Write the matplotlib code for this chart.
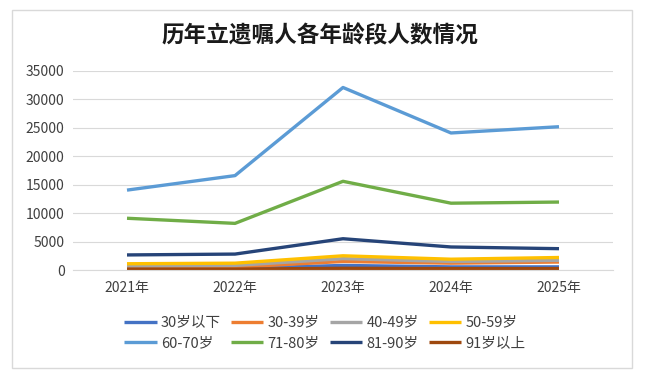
import matplotlib.pyplot as plt
from matplotlib.patches import Rectangle

plt.rcParams['font.family'] = ['Noto Sans CJK SC', 'DejaVu Sans']

years = ["2021年", "2022年", "2023年", "2024年", "2025年"]
labels = ["30岁以下", "30-39岁", "40-49岁", "50-59岁", "60-70岁", "71-80岁", "81-90岁", "91岁以上"]
under30 = [300, 300, 800, 550, 550]
age30_39 = [500, 500, 1500, 1200, 1400]
age40_49 = [700, 800, 2000, 1500, 1700]
age50_59 = [1100, 1200, 2500, 1900, 2200]
age60_70 = [14050, 16600, 32100, 24100, 25200]
age71_80 = [9100, 8200, 15600, 11750, 11950]
age81_90 = [2650, 2800, 5500, 4050, 3750]
over91 = [150, 150, 300, 250, 250]
series = [under30, age30_39, age40_49, age50_59, age60_70, age71_80, age81_90, over91]
colors = ["#4472C4", "#ED7D31", "#A5A5A5", "#FFC000", "#5B9BD5", "#70AD47", "#264478", "#9E480E"]

fig = plt.figure(figsize=(6.53, 3.85), dpi=100)
fig.patch.set_facecolor("white")
# 外枠
fig.patches.append(Rectangle((12 / 653, 1 - 368 / 385), 620 / 653, 358 / 385,
                             transform=fig.transFigure, fill=False,
                             edgecolor="#d9d9d9", linewidth=1))

ax = fig.add_axes([73 / 653, 1 - 270 / 385, 540 / 653, 199 / 385])
x = list(range(len(years)))
lines = []
for vals, lab, c in zip(series, labels, colors):
    ln, = ax.plot(x, vals, color=c, linewidth=2.4, label=lab, solid_capstyle="butt")
    lines.append(ln)

ax.set_xlim(-0.5, 4.5)
ax.set_ylim(0, 35000)
ax.set_yticks(range(0, 35001, 5000))
ax.set_xticks(x)
ax.set_xticklabels(years)
ax.grid(axis="y", color="#d9d9d9", linewidth=0.8)
ax.set_axisbelow(True)
for s in ["top", "right", "left"]:
    ax.spines[s].set_visible(False)
ax.spines["bottom"].set_color("#d9d9d9")
ax.tick_params(length=0, labelsize=10, colors="#404040", pad=8)
ax.tick_params(axis="y", pad=6)

fig.text(320 / 653, 1 - 36 / 385, "历年立遗嘱人各年龄段人数情况",
         ha="center", va="center", fontsize=16.3, fontweight="bold", color="#1a1a1a")

# 凡例は行方向に並べる
order = [0, 4, 1, 5, 2, 6, 3, 7]
fig.legend([lines[i] for i in order], [labels[i] for i in order],
           loc="center", bbox_to_anchor=(325 / 653, 1 - 333 / 385), ncol=4,
           frameon=False, fontsize=10.5, handlelength=2.2, handletextpad=0.3,
           columnspacing=0.7, labelspacing=0.45, labelcolor="#404040")

fig.savefig("out.png", dpi=100)
